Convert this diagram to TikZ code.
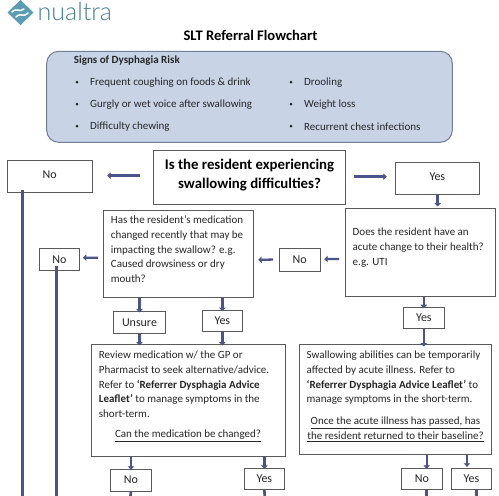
\documentclass[tikz,border=0pt]{standalone}
\usepackage{fontspec}
\setmainfont{Carlito}
\newfontfamily\logofont{Lato Light}
\usetikzlibrary{arrows.meta}
\definecolor{arrowblue}{HTML}{4A5488}
\definecolor{panelfill}{HTML}{C8D4E6}
\definecolor{paneledge}{HTML}{6F7D97}
\definecolor{boxedge}{HTML}{5A5A5A}
\definecolor{logoteal}{HTML}{47808F}
\definecolor{logoblue}{HTML}{5C9DB5}
\tikzset{
  x=1pt,y=-1pt,
  flowbox/.style={draw=boxedge,line width=0.9pt,fill=white,inner sep=0pt},
  boxlabel/.style={font=\fontsize{12}{14}\selectfont,text=black!85},
  para/.style={font=\fontsize{11}{14.6}\selectfont,text=black!85,align=left,anchor=north west,inner sep=0pt},
  arr/.style={draw=arrowblue,line width=2.3pt,-{Triangle[length=3.5pt,width=6.5pt]}},
  heavyarr/.style={arr,line width=3pt},
  trunk/.style={draw=arrowblue,line width=2.6pt},
}
\newcommand{\fbx}[6]{% name, left, top, right, bottom, text
  \path[flowbox] (#2,#3) rectangle (#4,#5);
  \node[boxlabel,inner sep=0pt] (#1) at ({(#2+#4)/2},{(#3+#5)/2}) [minimum width={(#4-#2)*1pt},minimum height={(#5-#3)*1pt}] {#6};
}
\begin{document}
\begin{tikzpicture}
\useasboundingbox (0,0) rectangle (499,496);
% logo
\begin{scope}
\fill[logoblue] (20.5,0) -- (33.5,12.5) -- (20.5,25) -- (7.5,12.5) -- cycle;
\draw[white,line width=1.5pt,line cap=round] (12,12) .. controls (17,7) and (19,13) .. (24,9);
\draw[white,line width=1.5pt,line cap=round] (16,17) .. controls (21,12) and (23,18) .. (28,13);
\end{scope}
\node[anchor=base west,inner sep=0pt,text=logoteal,font=\logofont\fontsize{25}{25}\selectfont] (logo) at (37.5,20.5) {nualtra};
% title
\node[font=\bfseries\fontsize{14.6}{16}\selectfont,inner sep=0pt] (title) at (250.5,35) {SLT Referral Flowchart};
% signs panel
\path[draw=paneledge,line width=1pt,fill=panelfill,rounded corners=12pt] (46.7,51.3) rectangle (452.3,142.3);
\node[anchor=west,inner sep=0pt,font=\bfseries\fontsize{11}{13}\selectfont,text=black!85] (signs) at (73.7,61) {Signs of Dysphagia Risk};
\foreach \nm/\bx/\tx/\yy/\txt in {
  a/77/90/82/{Frequent coughing on foods \& drink},
  b/77/90/104/{Gurgly or wet voice after swallowing},
  c/77/90/126/{Difficulty chewing},
  d/291/304/82/{Drooling},
  e/291/304/104/{Weight loss},
  f/291/304/126/{Recurrent chest infections}}{
  \fill[black!85] (\bx,\yy) circle (1.5pt);
  \node[anchor=west,inner sep=0pt,font=\fontsize{11}{13}\selectfont,text=black!85] (sign\nm) at (\tx,\yy+1) {\txt};
}
% boxes
\fbx{q}{153}{150.7}{345.7}{204.7}{}
\node[align=center,inner sep=0pt,font=\bfseries\fontsize{14.8}{19}\selectfont] (qtext) at (249.5,175) {Is the resident experiencing\\swallowing difficulties?};
\fbx{noA}{7.3}{160.3}{92}{192.7}{\raisebox{3.5pt}{No}}
\fbx{yesA}{395}{162.3}{479.7}{194.3}{\raisebox{3.5pt}{Yes}}
\fbx{med}{103.7}{210}{253.3}{297.7}{}
\node[para] (medtext) at (110.7,216) {Has the resident’s medication\\changed recently that may be\\impacting the swallow? e.g.\\Caused drowsiness or dry\\mouth?};
\fbx{acute}{345}{208.3}{495}{296.3}{}
\node[para] (acutetext) at (352.5,228) {Does the resident have an\\acute change to their health?\\e.g. UTI};
\fbx{noM}{279.3}{248.3}{320}{271}{No}
\fbx{noL}{39}{248.3}{79.7}{270.7}{No}
\fbx{unsure}{113.3}{311.7}{165.7}{333.3}{Unsure}
\fbx{yesM}{202}{310.3}{242.7}{331.7}{Yes}
\fbx{yesR}{403.7}{307.7}{444}{328.3}{Yes}
\fbx{review}{91.3}{344.7}{285.3}{456}{}
\node[para] (reviewtext) at (98.7,351) {Review medication w/ the GP or\\Pharmacist to seek alternative/advice.\\Refer to \textbf{‘Referrer Dysphagia Advice}\\\textbf{Leaflet’} to manage symptoms in the\\short-term.};
\node[inner sep=0pt,font=\fontsize{11}{13}\selectfont,text=black!85] (reviewq) at (188,436) {\underline{Can the medication be changed?}};
\fbx{swallow}{299.3}{344.7}{491.7}{454.7}{}
\node[para] (swallowtext) at (306.5,351) {Swallowing abilities can be temporarily\\affected by acute illness. Refer to\\\textbf{‘Referrer Dysphagia Advice Leaflet’} to\\manage symptoms in the short-term.};
\node[inner sep=0pt,align=center,font=\fontsize{11}{14.6}\selectfont,text=black!85] (swallowq) at (395.5,429.5) {\underline{Once the acute illness has passed, has}\\\underline{the resident returned to their baseline?}};
\fbx{noRv}{110.7}{469}{151.3}{491}{No}
\fbx{yesRv}{244}{468.3}{284.7}{489}{Yes}
\fbx{noS}{401.7}{468}{442}{489.3}{No}
\fbx{yesS}{451.3}{468}{491.7}{489}{Yes}
% bottom exits
\coordinate (endA) at (22.7,497);
\coordinate (endB) at (56.7,497);
\coordinate (endC) at (130.3,497);
\coordinate (endD) at (264.7,497);
\coordinate (endE) at (426.7,497);
\coordinate (endF) at (476.7,497);
% connectors
\draw[heavyarr] ([shift={(-13,-2)}]q.west) -- ([shift={(15,-0.8)}]noA.east);
\draw[heavyarr] ([shift={(8,-1)}]q.east) -- ([shift={(-8,-1.6)}]yesA.west);
\draw[heavyarr] ([shift={(0.3,0)}]yesA.south) -- ([shift={(0.3,-1.6)}]acute.north -| yesA.south);
\draw[arr] ([shift={(-5.7,6.7)}]acute.west) -- ([shift={(4,-0.6)}]noM.east);
\draw[arr] ([shift={(-6,-0.1)}]noM.west) -- ([shift={(4.7,6)}]med.east);
\draw[arr] ([shift={(-5.4,3.9)}]med.west) -- ([shift={(3,-1.8)}]noL.east);
\draw[arr] (unsure.north |- med.south) -- ([yshift=-1pt]unsure.north);
\draw[arr] (yesM.north |- med.south) -- ([yshift=-1pt]yesM.north);
\draw[arr] (unsure.south) -- ([yshift=-1pt]unsure.south |- review.north);
\draw[arr] (yesM.south) -- ([yshift=-1pt]yesM.south |- review.north);
\draw[arr] (yesR.north |- acute.south) -- ([yshift=-0.7pt]yesR.north);
\draw[arr] (yesR.south) -- ([yshift=-2pt]yesR.south |- swallow.north);
\draw[arr] (noRv.north |- review.south) -- ([yshift=-1pt]noRv.north);
\draw[arr] (yesRv.north |- review.south) -- ([yshift=-0.8pt]yesRv.north);
\draw[arr] (endE |- swallow.south) -- ([yshift=-1pt]endE |- noS.north);
\draw[arr] ([xshift=-4.5pt]yesS.north |- swallow.south) -- ([shift={(-4.5,-1)}]yesS.north);
\draw[trunk] ([yshift=3pt]endA |- noA.south) -- (endA);
\draw[trunk] ([yshift=5.3pt]endB |- noL.south) -- (endB);
\draw[trunk] (noRv.south) -- (endC);
\draw[trunk] (yesRv.south) -- (endD);
\draw[trunk] (endE |- noS.south) -- (endE);
\draw[trunk] (endF |- yesS.south) -- (endF);
\end{tikzpicture}
\end{document}
